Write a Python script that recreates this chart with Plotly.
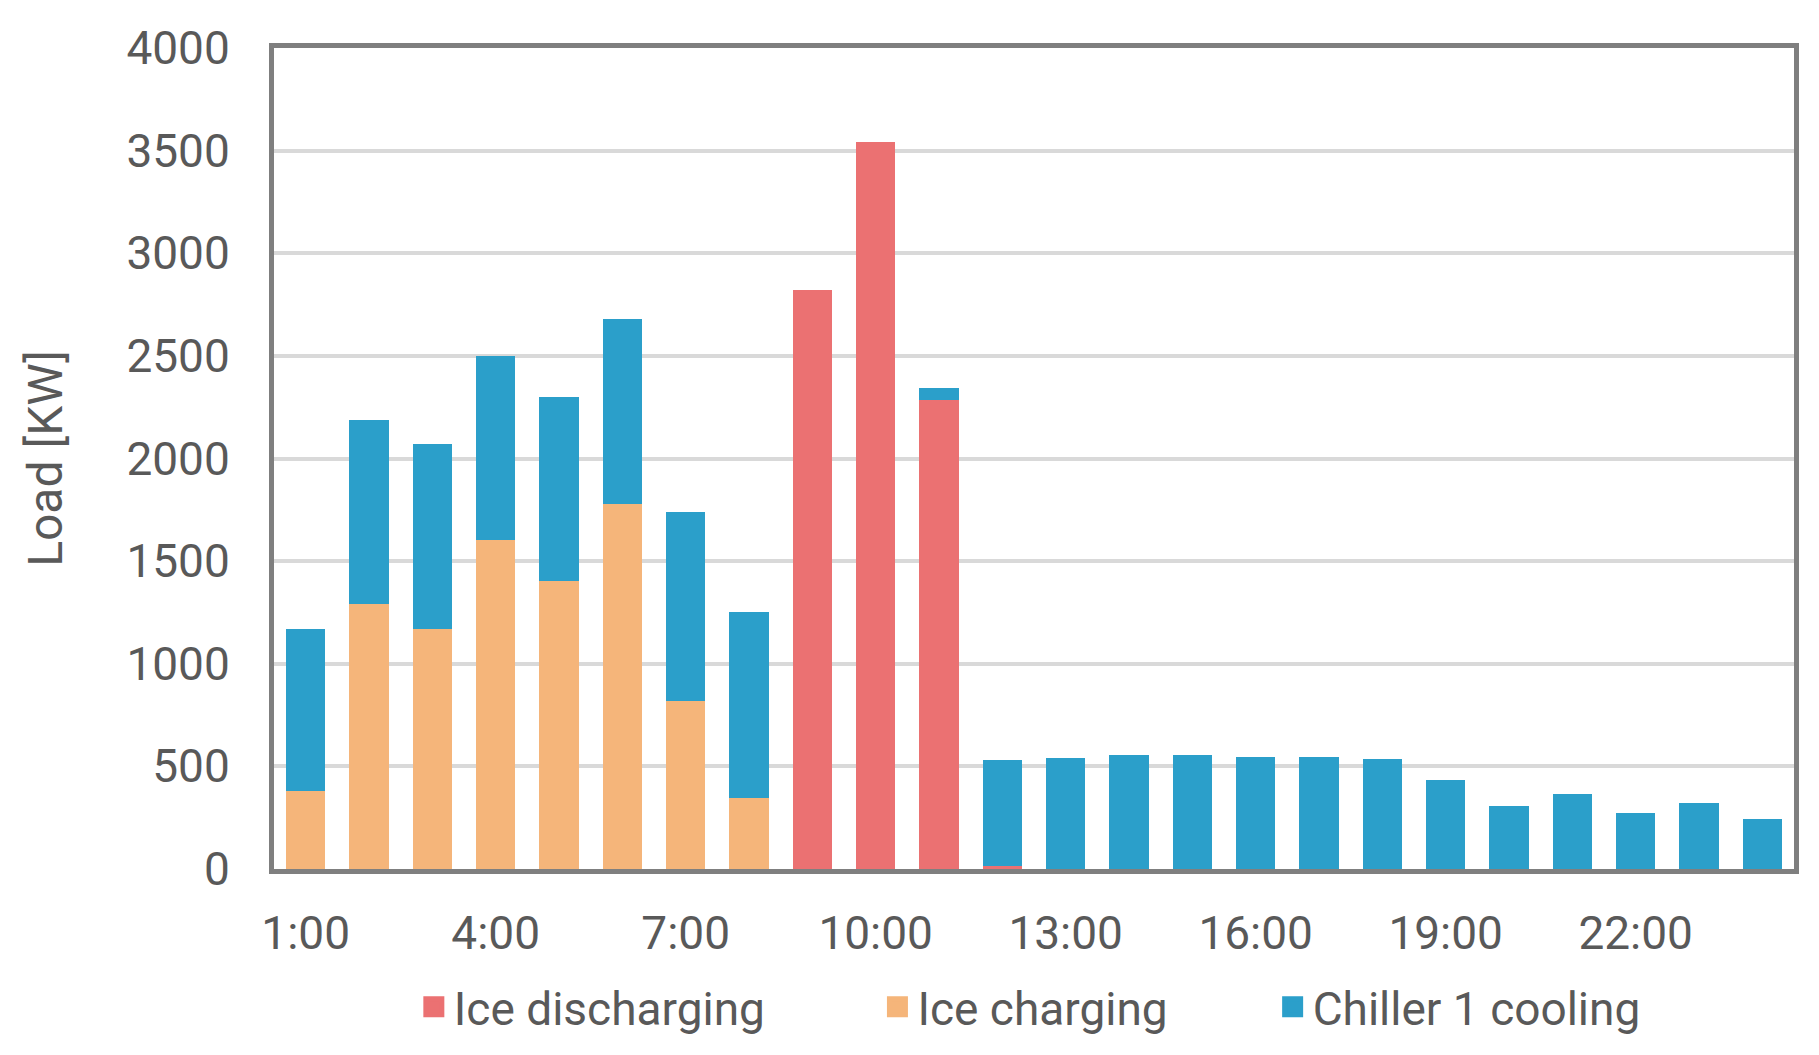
import plotly.graph_objects as go

hours = [f"{h}:00" for h in range(1, 25)]
tick_labels = ["1:00", "4:00", "7:00", "10:00", "13:00", "16:00", "19:00", "22:00"]

ice_discharging = [0, 0, 0, 0, 0, 0, 0, 0, 2820, 3540, 2285, 15,
                   0, 0, 0, 0, 0, 0, 0, 0, 0, 0, 0, 0]
ice_charging = [380, 1290, 1170, 1605, 1405, 1780, 820, 345, 0, 0, 0, 0,
                0, 0, 0, 0, 0, 0, 0, 0, 0, 0, 0, 0]
chiller1_cooling = [790, 900, 900, 895, 895, 900, 920, 905, 0, 0, 60, 515,
                    540, 555, 555, 545, 545, 535, 435, 305, 365, 273, 324, 242]

series_names = ["Ice discharging", "Ice charging", "Chiller 1 cooling"]
series_colors = ["#EB7172", "#F5B57A", "#2B9FCA"]
series_values = [ice_discharging, ice_charging, chiller1_cooling]
legend_ids = ["legend", "legend2", "legend3"]
legend_x = [0.092, 0.397, 0.657]

FONT = "Roboto, Liberation Sans, sans-serif"
TEXT = "#595959"

fig = go.Figure()
for name, color, vals in zip(series_names, series_colors, series_values):
    fig.add_trace(go.Bar(x=hours, y=vals, name=name, showlegend=False,
                         marker=dict(color=color, line=dict(width=0))))
# legend entries (larger square swatches)
for name, color, lid in zip(series_names, series_colors, legend_ids):
    fig.add_trace(go.Scatter(x=[None], y=[None], name=name, mode="markers",
                             legend=lid, showlegend=True,
                             marker=dict(symbol="square", size=20, color=color,
                                         line=dict(width=5, color=color))))

legend_common = dict(orientation="h", xanchor="left", y=-0.168, yanchor="middle",
                     font=dict(size=46, color=TEXT), bgcolor="rgba(0,0,0,0)",
                     itemwidth=30)

fig.update_layout(
    barmode="stack",
    bargap=0.38,
    width=1819, height=1055,
    margin=dict(l=266, r=33, t=40, b=194),
    paper_bgcolor="white", plot_bgcolor="white",
    font=dict(family=FONT, size=46, color=TEXT),
    legend=dict(x=legend_x[0], **legend_common),
    legend2=dict(x=legend_x[1], **legend_common),
    legend3=dict(x=legend_x[2], **legend_common),
)
fig.update_xaxes(
    type="category", categoryorder="array", categoryarray=hours,
    tickmode="array", tickvals=tick_labels, ticktext=tick_labels,
    showline=True, linecolor="#7F7F7F", linewidth=5, mirror=True,
    showgrid=False, ticks="", ticklabelstandoff=20,
    tickfont=dict(size=46, color=TEXT),
)
fig.update_yaxes(
    range=[0, 4000], tickmode="linear", tick0=0, dtick=500,
    showline=True, linecolor="#7F7F7F", linewidth=5, mirror=True,
    showgrid=True, gridcolor="#D9D9D9", gridwidth=4,
    zeroline=False, ticks="", ticklabelstandoff=30,
    tickfont=dict(size=46, color=TEXT),
    title=dict(text="Load [KW]", font=dict(size=48, color=TEXT), standoff=50),
)

fig.write_html("out.html")
